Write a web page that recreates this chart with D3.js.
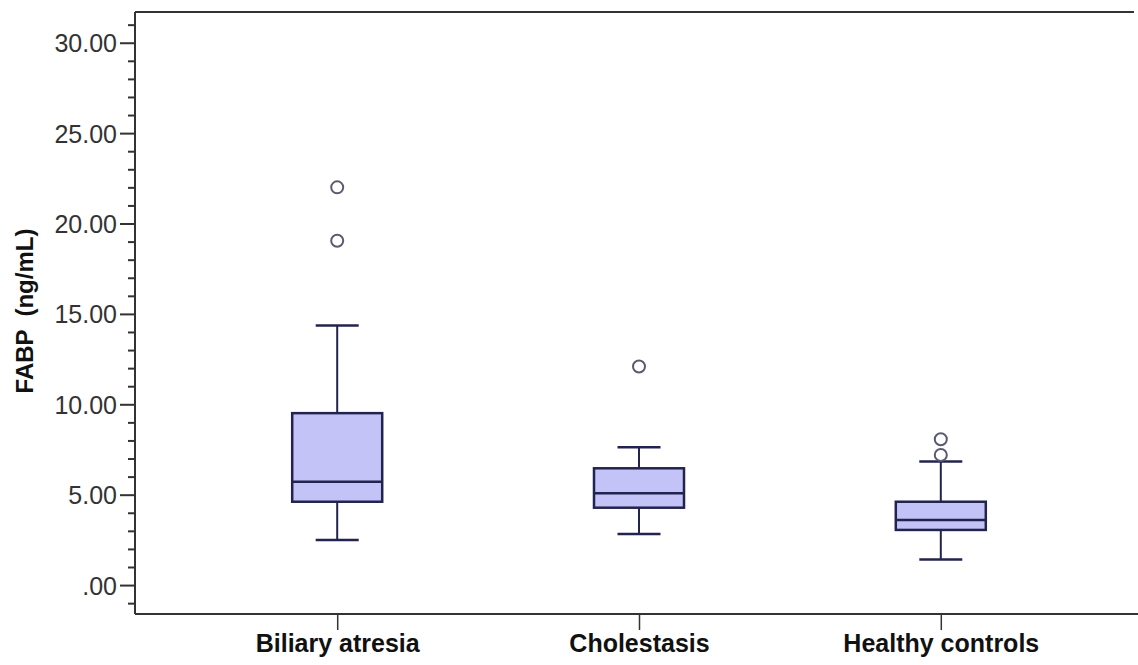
<!DOCTYPE html>
<html>
<head>
<meta charset="utf-8">
<script src="https://cdn.jsdelivr.net/npm/d3@7"></script>
<style>
  body { margin: 0; background: #fff; }
  svg { display: block; }
</style>
</head>
<body>
<div id="chart"></div>
<script>
// box plot summaries (ng/mL)
const categories = ['Biliary atresia', 'Cholestasis', 'Healthy controls'];
const whiskerLow = [2.49, 2.82, 1.42];
const q1 = [4.61, 4.28, 3.05];
const median = [5.72, 5.08, 3.6];
const q3 = [9.51, 6.46, 4.61];
const whiskerHigh = [14.36, 7.62, 6.83];
const outliers = [[22.0, 19.05], [12.09], [8.07, 7.2]];
const yTicks = [0, 5, 10, 15, 20, 25, 30];
const yMinorTicks = d3.range(-1, 32).filter(v => v % 5 !== 0);

const width = 1138;
const height = 665;
const plotLeft = 135, plotTop = 12, plotBottom = 614;

const svg = d3.select('#chart').append('svg')
  .attr('width', width)
  .attr('height', height);

const y = d3.scaleLinear()
  .domain([-1.6, 31.7])
  .range([plotBottom, plotTop]);

const x = d3.scalePoint()
  .domain(categories)
  .range([plotLeft, 1143])
  .padding(0.67);

const frameColor = '#333';
const navy = '#23234f';

// frame top line
svg.append('line')
  .attr('x1', plotLeft).attr('x2', 1134)
  .attr('y1', plotTop).attr('y2', plotTop)
  .attr('stroke', frameColor).attr('stroke-width', 2);

// y axis: minor ticks then major ticks
const fmt = v => v === 0 ? '.00' : d3.format('.2f')(v);

svg.append('g')
  .attr('transform', `translate(${plotLeft},0)`)
  .call(d3.axisLeft(y).tickValues(yMinorTicks).tickSize(7).tickFormat(''))
  .call(g => g.select('.domain').remove())
  .call(g => g.selectAll('line').attr('stroke', frameColor).attr('stroke-width', 2));

const yAxis = svg.append('g')
  .attr('transform', `translate(${plotLeft},0)`)
  .call(d3.axisLeft(y).tickValues(yTicks).tickSize(15).tickPadding(3).tickFormat(fmt));
yAxis.select('.domain').attr('stroke', frameColor).attr('stroke-width', 2)
  .attr('d', `M0,${plotTop}V${plotBottom}`);
yAxis.selectAll('.tick line').attr('stroke', frameColor).attr('stroke-width', 2);
yAxis.selectAll('.tick text')
  .attr('fill', '#333')
  .style('font-family', 'Liberation Sans, Arial, sans-serif')
  .style('font-size', '25px')
  .attr('dy', '0.36em');

// x axis
const xAxis = svg.append('g')
  .attr('transform', `translate(0,${plotBottom})`)
  .call(d3.axisBottom(x).tickSize(16).tickPadding(8));
xAxis.select('.domain').attr('stroke', frameColor).attr('stroke-width', 2)
  .attr('d', `M${plotLeft},0H${width}`);
xAxis.selectAll('.tick line').attr('stroke', frameColor).attr('stroke-width', 1.5);
xAxis.selectAll('.tick text')
  .attr('fill', '#111')
  .style('font-family', 'Liberation Sans, Arial, sans-serif')
  .style('font-size', '25px')
  .style('font-weight', 'bold')
  .attr('dy', '0.55em');

// y axis title
svg.append('text')
  .attr('transform', `translate(33,311) rotate(-90)`)
  .attr('text-anchor', 'middle')
  .style('white-space', 'pre')
  .style('font-family', 'Liberation Sans, Arial, sans-serif')
  .style('font-size', '24px')
  .style('font-weight', 'bold')
  .attr('fill', '#111')
  .text('FABP  (ng/mL)');

// boxes
const boxW = 90, capW = 43;
const boxes = svg.append('g');

categories.forEach((c, i) => {
  const cx = x(c);
  const g = boxes.append('g');

  // whiskers
  g.append('line')
    .attr('x1', cx).attr('x2', cx)
    .attr('y1', y(whiskerHigh[i])).attr('y2', y(q3[i]))
    .attr('stroke', navy).attr('stroke-width', 2);
  g.append('line')
    .attr('x1', cx).attr('x2', cx)
    .attr('y1', y(q1[i])).attr('y2', y(whiskerLow[i]))
    .attr('stroke', navy).attr('stroke-width', 2);
  [whiskerHigh[i], whiskerLow[i]].forEach(v => {
    g.append('line')
      .attr('x1', cx - capW / 2).attr('x2', cx + capW / 2)
      .attr('y1', y(v)).attr('y2', y(v))
      .attr('stroke', navy).attr('stroke-width', 2.5);
  });

  g.append('rect')
    .attr('x', cx - boxW / 2)
    .attr('y', y(q3[i]))
    .attr('width', boxW)
    .attr('height', y(q1[i]) - y(q3[i]))
    .attr('fill', '#c3c3f7')
    .attr('stroke', navy)
    .attr('stroke-width', 2.5);

  g.append('line')
    .attr('x1', cx - boxW / 2).attr('x2', cx + boxW / 2)
    .attr('y1', y(median[i])).attr('y2', y(median[i]))
    .attr('stroke', navy).attr('stroke-width', 2.5);

  g.selectAll('circle')
    .data(outliers[i])
    .join('circle')
    .attr('cx', cx)
    .attr('cy', d => y(d))
    .attr('r', 6)
    .attr('fill', 'none')
    .attr('stroke', '#5a5a70')
    .attr('stroke-width', 2);
});
</script>
</body>
</html>
